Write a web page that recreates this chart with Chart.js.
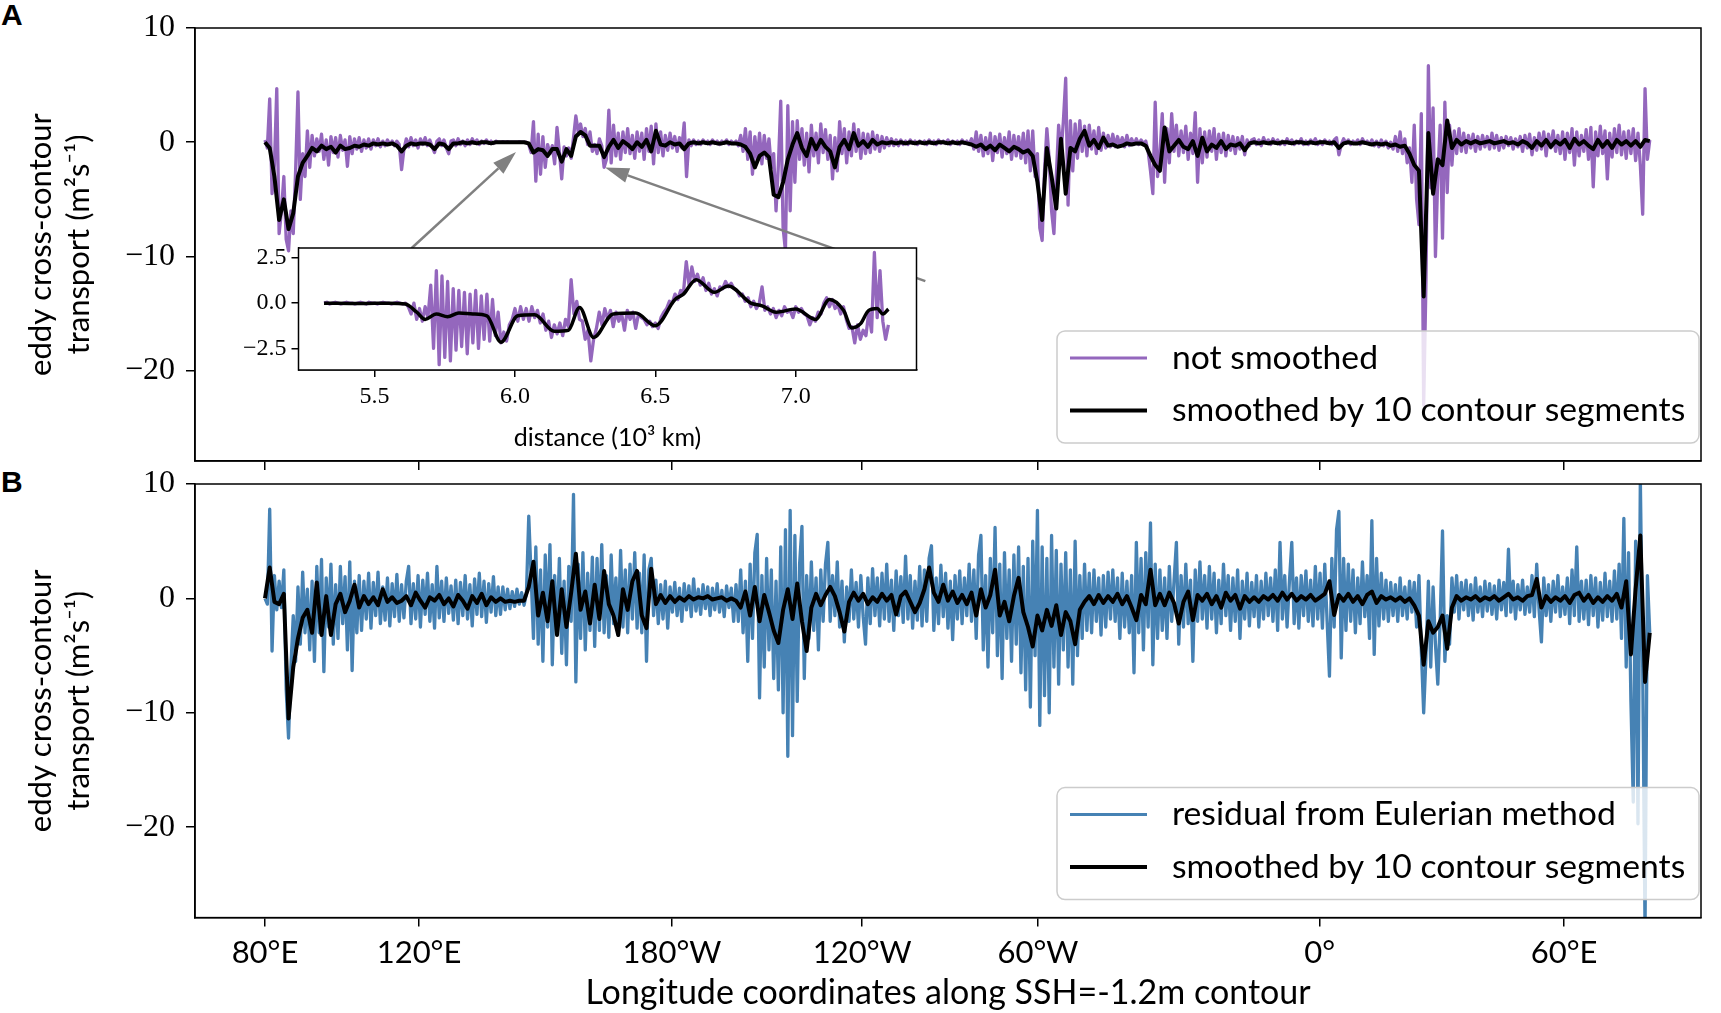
<!DOCTYPE html>
<html><head><meta charset="utf-8">
<script src="https://cdn.jsdelivr.net/npm/chart.js@4.4.1/dist/chart.umd.min.js"></script>
<style>
html,body{margin:0;padding:0;background:#fff;width:1721px;height:1013px;overflow:hidden;position:relative;}
canvas{position:absolute;}
.lbl{position:absolute;font:bold 30px "Liberation Sans",Arial,sans-serif;line-height:30px;color:#000;}
</style></head><body>
<div class="lbl" style="left:1px;top:0px">A</div>
<div class="lbl" style="left:1px;top:467px">B</div>
<canvas id="cA" width="1721" height="510" style="left:0;top:-10px"></canvas>
<canvas id="cB" width="1721" height="563" style="left:0;top:450px"></canvas>
<canvas id="cI" width="730" height="236" style="left:200px;top:220px"></canvas>
<script>
// ---------------- data ----------------
const lonTickPos = [0, 3.27, 8.64, 12.68, 16.41, 22.39, 27.58];
const lonTickLabels = ['80°E','120°E','180°W','120°W','60°W','0°','60°E'];
const yTicks = [-20, -10, 0, 10];
const insetXTicks = [5.5, 6.0, 6.5, 7.0];
const insetYTicks = [-2.5, 0, 2.5];
const RAW_STEP = 0.05, SMOOTH_STEP = 0.1, INSET_START = 5.32, INSET_STEP = 0.01;

// Panel A: not smoothed (distance 0 .. 29.4, step 0.05)
const rawA = [
0.2,-0.5,3.8,-4.5,-2.0,4.7,-8.0,-6.0,-3.0,-8.5,-9.5,-6.0,-8.0,-2.5,4.4,-5.0,-1.0,-3.0,1.0,-2.2,
0.6,-1.2,0.3,-0.8,0.7,-1.5,0.2,-2.0,0.5,-0.9,0.4,-1.3,0.6,-0.7,0.2,-2.1,0.5,-1.0,0.3,-0.6,
0.4,-0.8,0.2,-0.5,0.3,-0.6,0.2,-0.3,0.3,-0.4,0.1,-0.3,0.2,-0.2,0.1,-0.3,0.1,-0.2,-2.4,-0.6,
0.3,-0.4,0.4,-0.3,0.2,-0.5,0.3,-0.2,0.4,-0.3,0.2,-0.4,-0.9,0.1,0.3,-0.3,0.2,-0.5,-1.0,0.1,
0.2,-0.3,0.3,-0.2,0.1,-0.3,0.2,-0.2,0.3,-0.1,0.2,-0.2,0.1,-0.1,0.2,-0.1,0.1,-0.1,0.1,0.0,
0.0,0.05,0.0,0.05,0.0,0.0,0.0,0.0,0.05,0.0,0.0,0.0,-0.2,-0.9,1.8,-3.4,0.7,-2.8,0.5,-2.2,
-0.2,-1.0,-0.3,-1.9,1.3,-0.8,-3.2,-0.4,-1.2,-0.5,-1.4,0.4,2.3,0.9,1.6,0.5,1.2,-0.2,0.9,-0.8,
-0.2,-1.0,0.3,-0.3,-2.2,-1.5,2.8,-1.8,1.5,-1.2,0.8,-1.5,0.9,-0.9,1.2,-1.0,0.6,-1.4,0.9,-0.8,
0.8,-1.5,1.2,-0.8,1.4,-1.9,1.6,-0.9,0.9,-1.2,0.6,-0.7,0.8,-0.5,0.5,-0.8,0.4,-0.5,1.7,-3.0,
0.2,-0.3,0.2,-0.2,0.1,-0.2,0.2,-0.1,0.1,-0.2,0.2,-0.1,0.1,-0.2,0.1,-0.1,0.2,-0.2,0.1,-0.1,
0.1,-0.3,0.6,-0.8,1.2,-1.5,0.9,-2.8,0.5,-1.6,0.8,-1.9,0.6,-1.4,0.3,-2.2,-1.0,-6.0,-2.0,3.6,
-7.5,-9.5,3.2,-6.0,1.8,-3.5,1.9,-1.5,1.2,-2.0,0.8,-2.6,1.5,-1.2,0.8,-1.8,1.6,-0.9,1.1,-1.5,
0.6,-3.2,0.4,-2.5,1.8,-1.0,1.2,-1.8,0.9,-1.2,1.6,-0.8,1.1,-1.4,0.8,-1.0,0.7,-0.9,0.9,-0.6,
0.6,-0.8,0.5,-0.5,0.4,-0.3,0.3,-0.3,0.2,-0.3,0.2,-0.2,0.1,-0.2,0.2,-0.1,0.1,-0.2,0.1,-0.1,
0.1,-0.2,0.2,-0.1,0.1,-0.2,0.2,-0.1,0.1,-0.1,0.2,-0.2,0.1,-0.1,0.1,-0.2,0.2,-0.1,0.1,-0.2,
0.3,-0.6,0.9,-0.8,0.6,-1.2,0.4,-1.0,0.8,-1.6,0.5,-0.9,0.7,-1.3,0.4,-1.0,0.9,-1.5,0.6,-1.2,
0.5,-1.4,0.8,-1.8,1.0,-2.5,1.0,-3.0,-1.0,-7.5,-8.6,-2.5,1.2,-1.5,-6.0,-8.0,-3.0,1.5,-1.0,1.8,
5.6,-5.5,1.9,-2.5,1.6,-1.4,1.9,-0.8,1.4,-1.2,1.5,-0.6,1.0,-1.0,1.3,-0.7,0.8,-0.5,0.6,-0.4,
0.7,-0.4,0.5,-0.3,0.4,-0.4,0.6,-0.3,0.3,-0.2,0.3,-0.2,0.2,-0.1,0.1,-0.8,-2.5,-4.5,3.5,-3.0,
-1.0,2.5,-3.5,1.2,-1.8,2.5,-0.8,1.5,-1.2,1.0,-0.9,1.4,-1.5,0.8,-1.0,2.6,-3.5,1.2,-1.8,0.9,
-1.3,1.0,-0.8,1.2,-1.5,0.7,-0.9,0.8,-1.2,0.6,-0.7,0.5,-1.0,0.4,-0.6,0.5,-1.1,0.2,-0.3,0.2,
0.3,-0.2,0.2,-0.3,0.4,-0.1,0.2,-0.2,0.3,-0.1,0.2,-0.2,0.1,-0.2,0.3,-0.1,0.2,-0.2,0.1,-0.1,
0.3,-0.2,0.1,-0.2,0.2,-0.1,0.3,-0.2,0.1,-0.2,0.2,-0.1,0.1,-0.2,0.2,0.4,-1.1,-0.2,0.3,-0.1,
0.2,-0.2,0.1,-0.1,0.2,-0.2,0.3,-0.1,0.1,-0.2,0.2,-0.3,0.1,-0.4,0.2,-0.3,0.1,-0.5,0.0,-0.6,
0.5,-0.8,0.9,-1.0,0.3,-1.8,-0.5,-3.5,1.5,-5.0,-7.2,2.5,-23.0,-12.0,6.7,-4.0,3.0,-10.0,-3.0,1.5,
-8.4,3.5,-4.4,1.5,-2.0,1.0,-1.0,1.2,-0.8,0.8,-0.9,0.6,-0.5,0.7,-0.8,0.5,-0.6,0.6,-0.4,0.5,
-0.6,0.8,-0.5,0.6,-0.7,0.4,-0.5,0.5,-0.3,0.4,-0.6,0.3,-0.4,0.5,-0.8,0.6,-0.5,0.7,-1.1,0.4,
-0.7,0.8,-0.6,0.9,-1.2,0.7,-0.5,1.0,-0.8,0.6,-1.0,0.9,-1.5,0.8,-0.9,1.2,-2.0,0.9,-1.2,0.6,
-0.8,1.1,-1.5,1.3,-3.9,0.9,-1.2,1.4,-1.0,1.0,-3.2,0.8,-1.3,1.2,-0.9,1.5,-1.1,0.9,-1.4,1.0,
-1.0,1.2,-1.6,0.8,-2.0,-6.3,4.7,-1.5,0.2
];
// Panel A: smoothed by 10 contour segments (step 0.1)
const smoothA = [
0,-0.5,-3.0,-6.8,-5.0,-7.6,-6.2,-3.0,-1.8,-1.2,
-0.5,-0.8,-0.3,-0.6,-0.4,-0.9,-0.3,-0.6,-0.5,-0.3,
-0.4,-0.2,-0.3,-0.1,-0.2,-0.1,-0.2,-0.1,-0.3,-0.8,
-0.3,-0.1,-0.2,-0.1,-0.1,-0.2,-0.6,-0.1,-0.2,-0.6,
-0.1,-0.1,0.0,-0.1,0.0,-0.1,0.0,0.0,-0.1,0.0,
0,0,0,0,0,0,-0.1,-0.9,-0.6,-0.7,
-1.2,-0.6,-0.6,-1.7,-0.6,-1.2,0.5,0.9,0.6,-0.3,
-0.3,-0.3,-1.3,-0.4,0.2,-0.5,0.1,-0.2,-0.6,0.0,
-0.4,0.2,-0.8,1.0,-0.2,-0.3,0.0,-0.2,-0.1,-0.6,
-0.1,0.0,-0.1,0.0,-0.1,0.0,-0.1,-0.1,0.0,-0.1,
-0.1,-0.2,-0.4,-1.0,-2.2,-1.2,-0.9,-1.3,-4.6,-4.8,
-3.5,-1.5,-0.2,0.8,-0.5,-1.2,0.3,-0.6,0.2,-0.4,
-0.8,-2.2,-0.4,0.2,-0.6,0.8,-0.3,0.1,-0.4,0.2,
-0.2,0.0,-0.1,0.0,-0.1,0.0,-0.1,0.0,-0.1,0.0,
-0.1,0.0,-0.1,0.0,0.0,-0.1,0.0,-0.1,0.0,-0.1,
-0.2,-0.4,-0.2,-0.6,-0.3,-0.7,-0.2,-0.5,-0.8,-0.4,
-0.6,-0.9,-0.7,-1.2,-3.5,-6.8,-0.5,-3.0,-5.8,0.3,
-4.5,-0.5,-0.8,0.3,1.0,-0.3,0.2,-0.5,0.4,-0.3,
-0.2,-0.4,-0.3,-0.1,-0.2,-0.1,-0.1,-0.3,-1.2,-2.0,
-2.5,1.3,-0.8,-0.3,0.2,-0.4,-0.6,0.1,-1.2,0.4,
-0.8,-0.2,-0.5,0.1,-0.6,-0.2,-0.3,-0.1,-0.7,-0.1,
0.0,-0.1,0.0,-0.1,0.0,-0.1,0.0,0.0,-0.1,0.0,
0.0,-0.1,0.0,-0.1,0.0,0.0,-0.1,0.0,-0.5,-0.1,
0.0,-0.1,-0.1,0.0,-0.1,-0.2,-0.1,-0.2,-0.1,-0.3,
-0.2,-0.4,-0.3,-1.0,-2.0,-2.5,-13.5,0.8,-4.5,-1.5,
-2.0,1.9,-0.5,0.2,-0.2,0.1,-0.1,0.1,-0.1,0.0,
0.1,-0.1,0.0,0.1,-0.1,0.0,-0.2,0.1,-0.1,-0.5,
0.1,-0.3,0.2,-0.4,0.1,-0.2,0.2,-0.5,0.3,-0.2,
0.1,-0.3,-0.6,0.2,-0.4,0.1,-0.5,0.2,-0.2,0.1,
-0.3,0.1,-0.4,0.2,0.1
];
// Panel B: residual from Eulerian method (step 0.05)
const rawB = [
0.0,-0.5,7.8,-4.6,2.0,-1.0,1.5,-0.8,2.5,-8.0,-12.2,-6.0,-1.5,-5.5,1.0,-4.0,2.3,-3.0,0.8,-4.5,
1.5,-5.5,2.8,-3.0,3.4,-6.4,1.8,-2.5,3.0,-4.0,1.2,-3.5,2.8,-2.2,1.9,-4.5,3.2,-6.3,1.5,-3.0,
2.0,-2.8,1.5,-1.8,2.2,-2.6,1.4,-1.5,2.3,-2.2,1.0,-1.9,1.8,-2.4,1.3,-1.6,2.1,-2.0,1.2,-1.7,
1.5,2.8,-2.2,1.3,-1.8,2.0,-2.5,1.6,-1.4,2.2,-2.0,1.2,-2.6,2.8,-1.7,1.5,-2.0,1.8,-1.3,1.1,
-1.9,1.6,-2.2,1.4,-1.5,2.0,-1.8,1.2,-2.4,1.7,-1.4,2.2,-1.6,1.5,-2.1,1.3,-1.2,1.9,-1.5,1.0,
-1.4,1.0,-1.0,0.8,-0.9,0.6,-0.7,0.8,-0.5,0.5,-0.6,0.4,7.2,2.0,-3.5,4.5,-4.0,2.5,-5.5,3.8,
-2.5,4.7,-5.8,2.0,-3.0,3.5,-4.8,1.5,-5.8,2.8,-2.0,9.1,-7.3,3.0,-3.5,4.0,-4.5,2.2,-2.8,3.6,
-4.2,3.5,-2.8,4.7,-3.0,2.0,-3.4,3.8,-2.2,1.8,-3.2,4.2,-2.5,2.5,-3.0,3.0,-1.8,4.0,-2.6,2.2,
-3.0,3.8,-5.5,2.5,3.5,-1.5,1.6,-2.2,1.2,-1.8,1.5,-2.6,1.0,-1.2,1.4,-1.5,0.9,-2.0,1.3,-1.0,
1.1,-1.6,1.7,-1.1,0.8,-1.4,1.2,-0.9,1.0,-1.5,0.9,-1.0,1.3,-1.2,0.7,-1.6,1.1,-0.8,0.9,-2.0,
1.2,-2.0,2.5,-3.0,1.5,-5.5,3.0,-3.5,4.0,5.6,-8.7,2.0,-6.0,3.5,-4.5,2.5,-7.0,1.5,-8.0,4.5,
-10.0,6.0,-13.8,7.7,-12.0,5.5,-9.0,3.0,6.3,-7.0,2.0,-3.5,3.2,-2.8,1.8,-4.5,2.5,-2.0,3.0,4.9,
-2.0,2.0,-1.5,3.2,-2.5,1.5,-3.8,1.0,-2.0,2.5,-1.8,1.4,-2.5,2.0,-1.6,-4.0,1.8,-2.2,2.6,-1.5,
1.8,-2.4,2.2,-1.8,3.0,-2.0,1.6,-2.8,2.4,-1.5,1.9,-2.1,3.7,-1.8,2.0,-2.6,1.5,-1.9,2.8,-2.4,
2.5,-2.0,3.5,4.6,-2.8,1.8,-2.2,2.9,-1.6,2.2,-2.6,1.5,-3.6,2.0,-1.8,2.4,-2.2,1.8,-1.5,3.0,
-2.0,2.5,-3.5,3.8,5.5,-4.5,2.0,-6.0,3.5,-3.0,6.2,-5.0,3.0,-7.0,4.0,-3.5,2.5,-5.5,3.8,-4.0,
4.5,-6.5,2.8,-8.0,3.5,-9.5,5.0,-5.0,7.7,-11.1,4.5,-8.5,3.5,-10.0,5.5,-6.0,4.2,-7.5,3.0,-4.5,
4.0,-6.0,2.5,-7.5,5.0,-5.0,2.0,-3.5,3.0,-2.8,2.2,-3.0,2.5,-2.0,1.8,-3.2,2.0,-2.5,2.3,-1.8,
2.5,-2.0,1.8,-3.5,2.2,-2.5,1.5,-3.0,2.0,-6.5,4.9,-3.0,3.5,-4.5,4.0,-2.5,6.6,-5.8,3.0,-3.5,
2.5,-2.8,1.8,-3.5,2.8,-2.0,1.5,4.9,-4.0,2.0,-2.5,3.0,-2.2,1.6,-5.5,2.5,-2.0,3.2,-1.8,2.0,
-2.6,2.8,-1.8,2.2,-3.0,1.6,-2.2,3.0,-1.5,2.0,-2.8,1.8,-2.0,2.5,-3.5,1.5,-1.8,2.2,-2.4,1.4,
-1.6,2.0,-2.5,1.5,-1.8,2.2,-1.5,1.8,-2.0,2.5,-2.8,4.9,-1.8,2.0,-2.5,1.5,4.9,-2.2,1.8,-2.6,
2.0,-1.5,2.4,-2.0,1.6,-2.4,2.8,-1.8,2.2,-2.6,3.0,-2.0,-6.8,3.5,-2.5,6.0,7.6,-5.2,3.5,-2.8,
3.0,-2.0,2.5,-3.0,1.8,-2.2,3.2,-1.6,2.0,-3.5,6.8,-4.9,3.5,-2.4,2.2,-1.8,1.6,-2.0,1.4,-1.5,
1.2,-2.0,1.8,-1.5,1.0,-1.8,1.5,-1.2,1.4,-2.5,2.0,-4.5,-10.0,-5.0,1.5,-6.0,1.0,-4.0,-7.5,-2.0,
5.9,-5.5,-1.5,-4.0,1.8,-1.2,2.0,-1.8,1.4,-1.0,1.6,-1.5,1.2,-1.9,1.8,-1.2,1.0,-1.6,1.5,-1.1,
1.3,-1.4,1.1,-1.8,1.6,-1.0,1.4,-1.5,4.3,-1.2,1.5,-1.8,1.2,-1.0,1.6,-1.4,1.0,-1.2,2.0,-1.6,
3.0,-1.0,-3.8,1.8,-1.5,1.2,-2.0,1.5,-1.2,2.0,-1.6,1.0,-1.4,1.8,-2.2,2.5,-1.5,4.5,-2.0,1.5,
-1.8,1.6,-2.3,2.0,-1.5,1.8,-2.5,1.4,-1.9,2.2,-1.6,1.5,-2.0,2.4,-1.8,3.0,-3.5,7.0,-6.0,4.0,
-9.0,-17.8,5.0,-19.7,10.5,-6.0,-29.0,2.0,-3.0
];
// Panel B: smoothed by 10 contour segments (step 0.1)
const smoothB = [
0,2.7,-0.3,-0.5,0.4,-10.5,-6.0,-3.5,-1.7,-1.0,
-3.0,1.4,-3.2,0.2,-3.2,-0.5,0.4,-1.2,-0.2,1.2,
-0.8,0.2,-0.5,0.1,-0.6,0.8,-0.3,0.1,-0.4,-0.2,
0.2,-0.6,0.5,-0.2,-0.8,0.1,-0.2,0.3,-0.5,0.0,
-0.7,0.3,-0.2,-0.9,0.2,-0.4,0.4,-0.6,0.1,-0.3,
0.0,-0.3,-0.2,-0.3,-0.2,-0.2,1.0,3.2,-1.5,0.5,
-2.0,1.5,-3.2,0.8,-2.5,0.5,3.9,-1.0,0.6,-2.2,
1.2,-1.8,2.4,-0.5,-1.5,-3.2,0.8,-1.0,1.5,2.4,
-1.5,-2.6,2.6,-0.5,0.3,-0.4,0.2,-0.3,0.1,-0.2,
0.2,-0.1,0.1,0.0,0.2,-0.1,0.0,0.1,-0.2,0.0,
-0.2,-0.8,0.6,-1.5,1.0,-2.0,0.3,-1.2,-2.8,-3.9,
-1.0,0.8,-1.8,1.3,-2.0,-4.6,-0.8,0.4,-0.6,0.3,
1.0,0.2,-1.2,-2.9,-0.3,0.5,-0.2,0.4,-0.5,0.1,
-0.3,0.4,-0.2,0.3,-1.4,0.2,0.6,-0.3,-1.2,-0.4,
0.8,2.7,0.5,-0.3,1.2,-0.2,0.6,-0.4,0.3,-0.5,
0.5,-1.5,0.8,-0.8,0.3,2.5,-1.5,-0.3,-2.0,0.2,
1.8,-1.2,-2.5,-4.2,-1.5,-2.8,-1.0,-2.4,-0.6,-3.2,
-1.2,-2.0,-4.0,-1.0,-0.3,0.2,-0.5,0.3,-0.4,0.2,
-0.3,0.4,-0.5,0.2,-0.8,-1.9,0.3,-0.5,2.5,-0.6,
0.4,-0.6,0.5,-0.4,-2.2,-0.3,0.6,-1.9,0.3,-0.2,
0.4,-0.5,0.2,-0.8,0.5,-0.2,0.3,-0.9,0.2,-0.3,
0.1,-0.3,0.2,-0.1,0.3,-0.2,0.5,-0.1,0.4,-0.2,
0.2,-0.1,0.3,-0.2,0.1,0.4,1.5,-1.45,0.3,-0.2,
0.4,-0.3,0.2,-0.5,0.3,0.6,-0.4,0.2,-0.1,0.1,
-0.2,0.1,-0.3,0.0,-0.6,-1.5,-5.8,-2.0,-3.0,-2.5,
-1.5,-4.4,-0.8,0.2,-0.2,0.1,-0.1,0.2,-0.2,0.1,
-0.1,0.2,-0.2,0.1,0.4,-0.1,0.1,-0.2,0.2,0.3,
1.7,-0.8,0.2,-0.3,0.1,-0.2,0.2,-0.4,0.3,0.5,
-0.2,0.3,-0.4,0.1,-0.3,0.2,-0.2,0.4,-0.8,1.5,
-4.9,0.8,5.5,-7.3,-3.0
];
// Inset: not smoothed, distance 5.32 .. 7.33 (step 0.01)
const insetRaw = [
0.0,0.05,-0.05,0.0,0.05,0.0,-0.05,0.0,0.05,0.0,0.0,-0.05,0.0,0.05,0.0,-0.05,0.05,0.0,0.0,-0.05,0.0,0.05,0.0,0.0,-0.05,0.0,0.05,0.0,-0.05,0.0,
-0.2,-0.6,0.0,-0.9,-0.3,-1.0,-0.2,-0.8,
1.0,-2.5,1.8,-3.4,1.5,-3.0,1.2,-3.2,0.8,-2.6,
0.7,-2.4,0.6,-2.8,0.5,-2.2,0.7,-2.5,0.4,-2.0,
0.5,-2.1,0.2,-1.8,-0.5,-2.2,-1.6,-2.1,-1.2,-0.9,
-0.3,-1.0,-0.2,-0.9,-0.3,-1.0,-0.2,-0.8,-0.4,-1.1,
-0.6,-1.5,-1.0,-1.9,-1.2,-1.7,-1.1,-1.8,-0.9,-1.3,
1.3,-0.6,0.1,-0.9,-1.0,-2.0,-1.5,-3.2,-2.0,-1.4,
-0.5,-1.2,-0.3,-0.9,-0.4,-1.3,-0.5,-1.0,-0.6,-1.5,
-0.4,-0.9,-0.5,-1.4,-0.6,-0.8,-0.9,-1.2,-1.0,-1.3,
-1.1,-1.4,-0.8,-0.5,-0.3,0.1,0.0,0.5,0.2,0.7,
0.6,2.3,1.0,2.0,1.2,1.6,1.0,1.4,0.7,1.1,
0.5,0.8,0.4,0.9,0.8,1.2,0.9,1.1,0.8,0.7,
0.4,0.5,0.1,0.3,-0.2,0.1,-0.3,0.0,0.9,-0.4,
-0.2,-0.6,-0.3,-0.8,-0.4,-0.7,-0.2,-0.5,-0.4,-0.8,
-0.2,-0.5,-0.3,-0.6,-0.7,-1.2,-0.8,-1.0,-0.5,-0.6,
0.0,0.3,-0.2,0.2,-0.3,-0.1,-0.6,-0.2,-0.9,-1.4,
-1.3,-2.2,-1.2,-2.0,-1.5,-1.8,-0.5,-1.6,2.8,-0.8,
1.8,-1.0,-2.0,-1.2
];
// Inset: smoothed, read at these distances
const insetSmoothX = [5.32,5.45,5.55,5.61,5.65,5.68,5.72,5.76,5.8,5.85,5.9,5.95,6.01,6.07,6.14,6.19,6.23,6.28,6.35,6.43,6.5,6.57,6.6,6.645,6.71,6.76,6.84,6.88,6.93,7.0,7.07,7.12,7.17,7.2,7.23,7.26,7.29,7.31,7.33];
const insetSmoothY = [0,-0.02,0.0,-0.05,-0.5,-0.9,-0.6,-0.75,-0.55,-0.6,-0.7,-2.16,-0.7,-0.65,-1.56,-1.5,-0.24,-1.9,-0.6,-0.55,-1.25,0.2,0.5,1.3,0.6,0.95,0.0,-0.15,-0.5,-0.33,-0.9,0.2,-0.4,-1.37,-1.15,-0.4,-0.3,-0.6,-0.33];

// ---------------- helpers ----------------
const SERIF = '"Liberation Serif","DejaVu Serif",serif';
const SANS = 'Lato,"DejaVu Sans",sans-serif';
const PURPLE = '#9467bd', BLUE = '#4682b4';
const X_MIN = -1.486, X_MAX = 30.488, Y_MIN = -27.9, Y_MAX = 10;
function pts(arr, x0, step){ return arr.map((v,i)=>({x:+(x0+i*step).toFixed(3), y:v})); }
function fmtNum(v, d){ const s = d ? Math.abs(v).toFixed(d) : String(Math.abs(v)); return v < 0 ? '\u2212'+s : s; }

const framePlugin = {id:'frame', afterDraw(chart){
  const {ctx, chartArea:a} = chart; ctx.save(); ctx.strokeStyle='#000'; ctx.lineWidth=1.5;
  ctx.strokeRect(a.left, a.top, a.right-a.left, a.bottom-a.top); ctx.restore(); }};

function legendPlugin(items){ return {id:'lg', afterDraw(chart){
  const {ctx, chartArea:a} = chart; const w=642, h=112; const x=a.right-2-w, y=a.bottom-18-h;
  ctx.save(); ctx.beginPath(); ctx.roundRect(x, y, w, h, 8);
  ctx.fillStyle='rgba(255,255,255,0.8)'; ctx.fill(); ctx.strokeStyle='#cccccc'; ctx.lineWidth=1.5; ctx.stroke();
  items.forEach((it,i)=>{ const yy = y + 27 + i*52.5;
    ctx.beginPath(); ctx.strokeStyle=it.color; ctx.lineWidth=it.width; ctx.moveTo(x+13,yy); ctx.lineTo(x+90,yy); ctx.stroke();
    ctx.fillStyle='#000'; ctx.font='33.7px '+SANS; ctx.textBaseline='middle'; ctx.textAlign='left'; ctx.fillText(it.text, x+115, yy); });
  ctx.restore(); }}; }

// arrow endpoints in data units of panel A (from -> to)
const arrowDefs = [{from:[3.11,-9.28], to:[5.33,-0.86]}, {from:[14.02,-12.15], to:[7.22,-2.2]}];
const arrowPlugin = {id:'arrows', afterDatasetsDraw(chart){
  const {ctx, scales:{x, y}} = chart; ctx.save(); ctx.strokeStyle='#808080'; ctx.fillStyle='#808080'; ctx.lineWidth=2.5;
  arrowDefs.forEach(a=>{ const x0=x.getPixelForValue(a.from[0]), y0=y.getPixelForValue(a.from[1]);
    const x1=x.getPixelForValue(a.to[0]), y1=y.getPixelForValue(a.to[1]);
    const ang=Math.atan2(y1-y0, x1-x0), L=24, W=7.5; const bx=x1-L*Math.cos(ang), by=y1-L*Math.sin(ang);
    ctx.beginPath(); ctx.moveTo(x0,y0); ctx.lineTo(bx,by); ctx.stroke();
    ctx.beginPath(); ctx.moveTo(x1,y1); ctx.lineTo(bx+W*Math.sin(ang), by-W*Math.cos(ang)); ctx.lineTo(bx-W*Math.sin(ang), by+W*Math.cos(ang)); ctx.closePath(); ctx.fill(); });
  ctx.restore(); }};

function mainOptions(topPad, xHeight, showXLabels){
  return {
    responsive:false, animation:false, devicePixelRatio:1, events:[],
    layout:{padding:{left:0,right:20,top:topPad,bottom:0}},
    plugins:{legend:{display:false}, tooltip:{enabled:false}},
    elements:{point:{radius:0}, line:{tension:0, borderJoinStyle:'round'}},
    scales:{
      x:{type:'linear', min:X_MIN, max:X_MAX,
        afterBuildTicks:s=>{ s.ticks = lonTickPos.map(v=>({value:v})); },
        afterFit:s=>{ s.height = xHeight; },
        ticks:{display:showXLabels, autoSkip:false, maxRotation:0, callback:(v,i)=>lonTickLabels[i], font:{family:SANS,size:31}, color:'#000', padding:8},
        grid:{drawOnChartArea:false, drawTicks:true, tickLength:9, color:'#000', lineWidth:1.5},
        border:{display:true, color:'#000', width:1.5},
        title:{display:showXLabels, text:'Longitude coordinates along SSH=-1.2m contour', font:{family:SANS,size:34}, color:'#000', padding:{top:0,bottom:0}}
      },
      y:{type:'linear', min:Y_MIN, max:Y_MAX,
        afterBuildTicks:s=>{ s.ticks = yTicks.map(v=>({value:v})); },
        afterFit:s=>{ s.width = 195; },
        ticks:{callback:v=>fmtNum(v), font:{family:SERIF,size:32}, color:'#000', padding:11},
        grid:{drawOnChartArea:false, drawTicks:true, tickLength:9, color:'#000', lineWidth:1.5},
        border:{display:true, color:'#000', width:1.5},
        title:{display:true, text:['eddy cross-contour','transport (m²s⁻¹)'], font:{family:SANS,size:31,lineHeight:1.23}, color:'#000', padding:{top:22,bottom:0}}
      }
    }
  };
}

// ---------------- panel A ----------------
new Chart(document.getElementById('cA'), {
  type:'line',
  data:{datasets:[
    {label:'not smoothed', data:pts(rawA,0,RAW_STEP), borderColor:PURPLE, borderWidth:3.3, order:2},
    {label:'smoothed by 10 contour segments', data:pts(smoothA,0,SMOOTH_STEP), borderColor:'#000', borderWidth:4, order:1}
  ]},
  options:mainOptions(38, 510-471, false),
  plugins:[arrowPlugin, framePlugin, legendPlugin([
    {text:'not smoothed', color:PURPLE, width:3},
    {text:'smoothed by 10 contour segments', color:'#000', width:4}])]
});

// ---------------- panel B ----------------
new Chart(document.getElementById('cB'), {
  type:'line',
  data:{datasets:[
    {label:'residual from Eulerian method', data:pts(rawB,0,RAW_STEP), borderColor:BLUE, borderWidth:3.3, order:2},
    {label:'smoothed by 10 contour segments', data:pts(smoothB,0,SMOOTH_STEP), borderColor:'#000', borderWidth:4, order:1}
  ]},
  options:mainOptions(34, 563-(917.6-450), true),
  plugins:[framePlugin, legendPlugin([
    {text:'residual from Eulerian method', color:BLUE, width:3},
    {text:'smoothed by 10 contour segments', color:'#000', width:4}])]
});

// ---------------- inset ----------------
const insetBg = {id:'bg', beforeDatasetsDraw(chart){ const {ctx, chartArea:a}=chart; ctx.save(); ctx.fillStyle='#fff'; ctx.fillRect(a.left,a.top,a.right-a.left,a.bottom-a.top); ctx.restore(); }};
new Chart(document.getElementById('cI'), {
  type:'line',
  data:{datasets:[
    {data:pts(insetRaw,INSET_START,INSET_STEP), borderColor:PURPLE, borderWidth:3.3, order:2},
    {data:insetSmoothX.map((x,i)=>({x, y:insetSmoothY[i]})), borderColor:'#000', borderWidth:3.5, order:1, cubicInterpolationMode:'monotone'}
  ]},
  options:{
    responsive:false, animation:false, devicePixelRatio:1, events:[],
    layout:{padding:{left:0,right:730-716.5,top:28,bottom:0}},
    plugins:{legend:{display:false}, tooltip:{enabled:false}},
    elements:{point:{radius:0}, line:{tension:0, borderJoinStyle:'round'}},
    scales:{
      x:{type:'linear', min:5.229, max:7.43,
        afterBuildTicks:s=>{ s.ticks = insetXTicks.map(v=>({value:v})); },
        afterFit:s=>{ s.height = 236-150; },
        ticks:{autoSkip:false, maxRotation:0, callback:v=>fmtNum(v,1), font:{family:SERIF,size:24}, color:'#000', padding:5},
        grid:{drawOnChartArea:false, drawTicks:true, tickLength:7, color:'#000', lineWidth:1.5},
        border:{display:true, color:'#000', width:1.5},
        title:{display:true, text:'distance (10³ km)', font:{family:SANS,size:25}, color:'#000', padding:{top:0,bottom:3}}
      },
      y:{type:'linear', min:-3.7, max:3.05,
        afterBuildTicks:s=>{ s.ticks = insetYTicks.map(v=>({value:v})); },
        afterFit:s=>{ s.width = 98.5; },
        ticks:{callback:v=>fmtNum(v,1), font:{family:SERIF,size:24}, color:'#000', padding:5},
        grid:{drawOnChartArea:false, drawTicks:true, tickLength:7, color:'#000', lineWidth:1.5},
        border:{display:true, color:'#000', width:1.5}
      }
    }
  },
  plugins:[insetBg, framePlugin]
});
</script>
</body></html>
